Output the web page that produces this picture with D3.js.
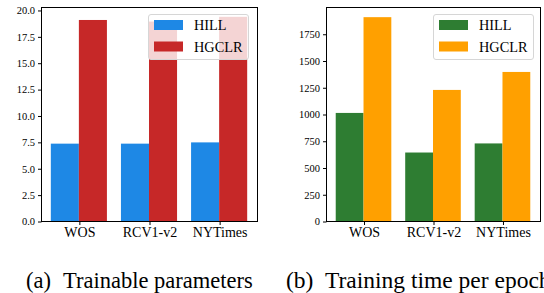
<!DOCTYPE html>
<html>
<head>
<meta charset="utf-8">
<script src="https://cdn.jsdelivr.net/npm/d3@7"></script>
<style>
  html, body { margin: 0; padding: 0; background: #fff; }
  svg { display: block; }
  text { font-family: "Liberation Serif", "Times New Roman", "DejaVu Serif", serif; fill: #000; }
</style>
</head>
<body>
<svg id="chart" width="544" height="293"></svg>
<script>
const categories = ["WOS", "RCV1-v2", "NYTimes"];
const seriesNames = ["HILL", "HGCLR"];
const paramsHILL = [7.33, 7.33, 7.45];
const paramsHGCLR = [19.05, 18.9, 19.35];
const timeHILL = [1010, 640, 725];
const timeHGCLR = [1905, 1225, 1393];
const paramsTicks = [0, 2.5, 5, 7.5, 10, 12.5, 15, 17.5, 20];
const timeTicks = [0, 250, 500, 750, 1000, 1250, 1500, 1750];
const captions = ["(a)", "Trainable parameters", "(b)", "Training time per epoch"];

const svg = d3.select("#chart");

function panel(opts) {
  const {left, right, top, bottom, yMax, ticks, fmt, a, b, colors} = opts;
  const g = svg.append("g");
  const x = d3.scaleLinear().domain([-0.54, categories.length - 1 + 0.54]).range([left, right]);
  const y = d3.scaleLinear().domain([0, yMax]).range([bottom, top]);
  const w = 0.4;
  const data = [a, b];
  data.forEach((vals, s) => {
    g.selectAll(null).data(vals).enter().append("rect")
      .attr("x", (d, i) => x(i - w + s * w))
      .attr("width", (d, i) => x(i + s * w) - x(i - w + s * w))
      .attr("y", d => y(d))
      .attr("height", d => y(0) - y(d))
      .attr("fill", colors[s]);
  });
  // legend
  const lg = g.append("g").attr("transform", `translate(${opts.legX},${opts.legY})`);
  lg.append("rect").attr("x", 0.5).attr("y", 0.5).attr("width", 100).attr("height", 45)
    .attr("rx", 2.5).attr("fill", "#fff").attr("fill-opacity", 0.8)
    .attr("stroke", "#d6d6d6").attr("stroke-width", 1);
  seriesNames.forEach((nm, s) => {
    lg.append("rect").attr("x", 6).attr("y", 6 + s * 21.5).attr("width", 29).attr("height", 10)
      .attr("fill", colors[s]);
    lg.append("text").attr("x", 46).attr("y", 11 + s * 21.5).attr("dy", "0.35em")
      .style("font-size", "14.3px").text(nm);
  });
  // frame
  g.append("rect").attr("x", left + 0.5).attr("y", top + 0.5)
    .attr("width", right - left).attr("height", bottom - top)
    .attr("fill", "none").attr("stroke", "#000").attr("stroke-width", 1);
  // axes
  const yAxis = d3.axisLeft(y).tickValues(ticks).tickFormat(fmt).tickSize(3.5).tickPadding(3);
  const ya = g.append("g").attr("transform", `translate(${left + 0.5},0.5)`).call(yAxis);
  ya.select(".domain").remove();
  ya.selectAll("text").style("font-size", "10.5px");
  const xAxis = d3.axisBottom(x).tickValues(d3.range(categories.length))
    .tickFormat(i => categories[i]).tickSize(3.5).tickPadding(2.5);
  const xa = g.append("g").attr("transform", `translate(0.5,${bottom + 0.5})`).call(xAxis);
  xa.select(".domain").remove();
  xa.selectAll("text").style("font-size", "14px");
  g.selectAll(".tick line").attr("stroke", "#000");
}

panel({left: 41, right: 257, top: 7, bottom: 221, yMax: 20.28, ticks: paramsTicks,
  fmt: d3.format(".1f"), a: paramsHILL, b: paramsHGCLR, colors: ["#1E88E5", "#C62828"],
  legX: 148, legY: 14});
panel({left: 326, right: 540, top: 7, bottom: 221, yMax: 2000, ticks: timeTicks,
  fmt: d3.format("d"), a: timeHILL, b: timeHGCLR, colors: ["#2E7D32", "#FFA000"],
  legX: 433, legY: 14});

const cap = svg.append("g");
const capPos = [[26, 288], [63, 288], [286, 288], [325, 288]];
const capSize = [22.5, 22.5, 23.5, 23.5];
captions.forEach((t, i) => {
  cap.append("text").attr("x", capPos[i][0]).attr("y", capPos[i][1])
    .style("font-size", capSize[i] + "px").text(t);
});
</script>
</body>
</html>
